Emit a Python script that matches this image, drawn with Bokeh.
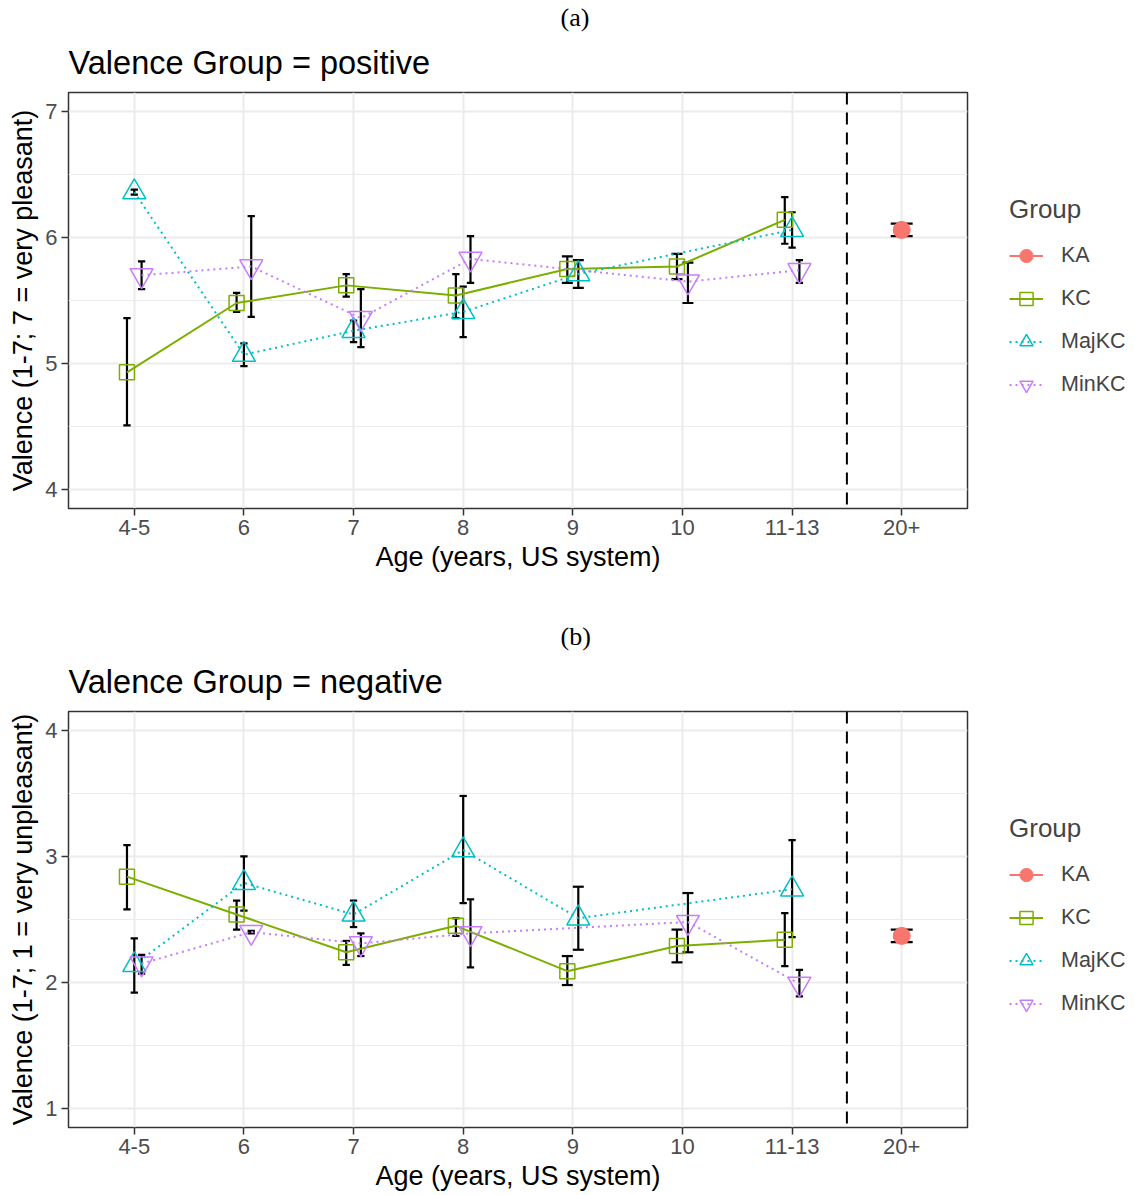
import math
from bokeh.plotting import figure
from bokeh.models import FixedTicker, Legend, LegendItem, Span, Title
from bokeh.layouts import column
from bokeh.embed import file_html
from bokeh.resources import INLINE

nan = float("nan")

categories = ["4-5", "6", "7", "8", "9", "10", "11-13", "20+"]
groups = ["KA", "KC", "MajKC", "MinKC"]

# ---- panel (a): positive valence ----
pos_KA_mean = [nan, nan, nan, nan, nan, nan, nan, 6.06]
pos_KA_lo = [nan, nan, nan, nan, nan, nan, nan, 6.01]
pos_KA_hi = [nan, nan, nan, nan, nan, nan, nan, 6.11]

pos_KC_mean = [4.93, 5.48, 5.62, 5.54, 5.75, 5.77, 6.14, nan]
pos_KC_lo = [4.51, 5.41, 5.53, 5.36, 5.64, 5.67, 5.95, nan]
pos_KC_hi = [5.36, 5.56, 5.71, 5.71, 5.85, 5.87, 6.32, nan]

pos_MajKC_mean = [6.36, 5.07, 5.26, 5.41, 5.71, nan, 6.06, nan]
pos_MajKC_lo = [6.34, 4.98, 5.17, 5.21, 5.60, nan, 5.92, nan]
pos_MajKC_hi = [6.38, 5.16, 5.34, 5.61, 5.82, nan, 6.20, nan]

pos_MinKC_mean = [5.70, 5.77, 5.36, 5.83, nan, 5.65, 5.74, nan]
pos_MinKC_lo = [5.59, 5.37, 5.13, 5.64, nan, 5.48, 5.64, nan]
pos_MinKC_hi = [5.81, 6.17, 5.59, 6.01, nan, 5.80, 5.82, nan]

# ---- panel (b): negative valence ----
neg_KA_mean = [nan, nan, nan, nan, nan, nan, nan, 2.37]
neg_KA_lo = [nan, nan, nan, nan, nan, nan, nan, 2.32]
neg_KA_hi = [nan, nan, nan, nan, nan, nan, nan, 2.42]

neg_KC_mean = [2.84, 2.54, 2.24, 2.45, 2.09, 2.29, 2.34, nan]
neg_KC_lo = [2.58, 2.42, 2.14, 2.37, 1.98, 2.16, 2.13, nan]
neg_KC_hi = [3.09, 2.65, 2.33, 2.51, 2.21, 2.42, 2.55, nan]

neg_MajKC_mean = [2.14, 2.79, 2.54, 3.05, 2.51, nan, 2.74, nan]
neg_MajKC_lo = [1.92, 2.57, 2.44, 2.63, 2.26, nan, 2.36, nan]
neg_MajKC_hi = [2.35, 3.00, 2.65, 3.48, 2.76, nan, 3.13, nan]

neg_MinKC_mean = [2.15, 2.40, 2.31, 2.39, nan, 2.48, 1.99, nan]
neg_MinKC_lo = [2.07, 2.39, 2.21, 2.12, nan, 2.24, 1.89, nan]
neg_MinKC_hi = [2.22, 2.41, 2.39, 2.66, nan, 2.71, 2.10, nan]

colors = {"KA": "#F8766D", "KC": "#7CAE00", "MajKC": "#00BFC4", "MinKC": "#C77CFF"}
markers = {"KA": "circle", "KC": "square", "MajKC": "triangle", "MinKC": "inverted_triangle"}
msizes = {"KA": 17, "KC": 15, "MajKC": 23, "MinKC": 23}
dashes = {"KA": "solid", "KC": "solid", "MajKC": "2 4", "MinKC": "2 4"}

FONT = "Liberation Sans"
DODGE = 0.2


def make_panel(tag, title, ylabel, yticks, yminor, yrange, data, top_border, bottom_border):
    p = figure(frame_width=899, frame_height=416, x_range=(0.4, 8.6), y_range=yrange,
               output_backend="svg", toolbar_location=None,
               min_border_left=68, min_border_right=156,
               min_border_top=top_border, min_border_bottom=bottom_border,
               background_fill_color="white", border_fill_color="white")
    p.outline_line_color = "#333333"
    p.outline_line_width = 1.5

    # outermost title: panel tag
    p.title.text = tag
    p.title.text_font = "Liberation Serif"
    p.title.text_font_size = "26px"
    p.title.text_font_style = "normal"
    p.title.text_color = "black"
    p.title.align = "left"
    p.title.offset = 492
    p.title.standoff = -2
    # inner title: facet label
    p.add_layout(Title(text=title, align="left", offset=0, text_font=FONT,
                       text_font_size="32.5px", text_font_style="normal", text_color="black",
                       standoff=24), "above")

    xt = list(range(1, len(categories) + 1))
    p.xaxis.ticker = FixedTicker(ticks=xt)
    p.xaxis.major_label_overrides = {i + 1: c for i, c in enumerate(categories)}
    p.xgrid.ticker = FixedTicker(ticks=xt)
    p.yaxis.ticker = FixedTicker(ticks=yticks, minor_ticks=yminor)
    p.ygrid.ticker = FixedTicker(ticks=yticks, minor_ticks=yminor)

    for g in (p.xgrid, p.ygrid):
        g.grid_line_color = "#EBEBEB"
        g.grid_line_width = 2
    p.ygrid.minor_grid_line_color = "#EBEBEB"
    p.ygrid.minor_grid_line_width = 1

    for ax in (p.xaxis, p.yaxis):
        ax.axis_line_color = None
        ax.major_tick_line_color = "#333333"
        ax.major_tick_line_width = 1.5
        ax.major_tick_out = 7
        ax.major_tick_in = 0
        ax.minor_tick_line_color = None
        ax.major_label_text_font = FONT
        ax.major_label_text_font_size = "22px"
        ax.major_label_text_color = "#4D4D4D"
        ax.major_label_standoff = 4
        ax.axis_label_text_font = FONT
        ax.axis_label_text_font_size = "27px"
        ax.axis_label_text_font_style = "normal"
        ax.axis_label_text_color = "black"
        ax.axis_label_standoff = 4
    p.xaxis.axis_label = "Age (years, US system)"
    p.yaxis.axis_label = ylabel

    # dodge positions (position_dodge, width 0.2)
    n_at = [sum(0 if math.isnan(data[g][0][i]) else 1 for g in groups) for i in range(len(categories))]
    rank = {g: [0] * len(categories) for g in groups}
    for i in range(len(categories)):
        k = 0
        for g in groups:
            if not math.isnan(data[g][0][i]):
                rank[g][i] = k
                k += 1

    line_r = {}
    pt_r = {}
    geo = {}
    for g in groups:
        mean, lo, hi = data[g]
        xs, ms, ls, hs, ws = [], [], [], [], []
        for i in range(len(categories)):
            if math.isnan(mean[i]):
                continue
            n = n_at[i]
            w = DODGE / n
            xs.append(i + 1 + (rank[g][i] - (n - 1) / 2) * w)
            ms.append(mean[i]); ls.append(lo[i]); hs.append(hi[i]); ws.append(w)
        geo[g] = (xs, ms, ls, hs, ws)

    # error bars
    for g in groups:
        xs, ms, ls, hs, ws = geo[g]
        x_l = [x - w / 2 for x, w in zip(xs, ws)]
        x_r = [x + w / 2 for x, w in zip(xs, ws)]
        p.segment(x0=xs, y0=ls, x1=xs, y1=hs, line_color="black", line_width=2.2)
        p.segment(x0=x_l, y0=ls, x1=x_r, y1=ls, line_color="black", line_width=2.2)
        p.segment(x0=x_l, y0=hs, x1=x_r, y1=hs, line_color="black", line_width=2.2)
    # lines
    for g in groups:
        xs, ms, ls, hs, ws = geo[g]
        line_r[g] = p.line(xs, ms, line_color=colors[g], line_width=2, line_dash=dashes[g])
    # points
    for g in groups:
        xs, ms, ls, hs, ws = geo[g]
        if g == "KA":
            pt_r[g] = p.scatter(xs, ms, marker=markers[g], size=msizes[g], fill_color=colors[g],
                                line_color=colors[g], line_width=1)
        else:
            pt_r[g] = p.scatter(xs, ms, marker=markers[g], size=msizes[g], fill_color=None,
                                line_color=colors[g], line_width=1.5)

    p.add_layout(Span(location=7.5, dimension="height", line_color="black", line_width=2,
                      line_dash="12 8"))

    items = [LegendItem(label=g, renderers=[line_r[g], pt_r[g]]) for g in groups]
    legend = Legend(items=items, title="Group", location=(42, 107), margin=0, padding=0,
                    border_line_color=None, background_fill_alpha=0,
                    glyph_width=34, glyph_height=33, label_height=33, spacing=10,
                    label_standoff=18, title_standoff=14,
                    title_text_font=FONT, title_text_font_size="26px", title_text_font_style="normal",
                    label_text_font=FONT, label_text_font_size="21.5px")
    p.add_layout(legend, "right")
    return p


data_pos = {"KA": (pos_KA_mean, pos_KA_lo, pos_KA_hi),
            "KC": (pos_KC_mean, pos_KC_lo, pos_KC_hi),
            "MajKC": (pos_MajKC_mean, pos_MajKC_lo, pos_MajKC_hi),
            "MinKC": (pos_MinKC_mean, pos_MinKC_lo, pos_MinKC_hi)}
data_neg = {"KA": (neg_KA_mean, neg_KA_lo, neg_KA_hi),
            "KC": (neg_KC_mean, neg_KC_lo, neg_KC_hi),
            "MajKC": (neg_MajKC_mean, neg_MajKC_lo, neg_MajKC_hi),
            "MinKC": (neg_MinKC_mean, neg_MinKC_lo, neg_MinKC_hi)}

p1 = make_panel("(a)", "Valence Group = positive", "Valence (1-7; 7 = very pleasant)",
                [4, 5, 6, 7], [4.5, 5.5, 6.5], (3.85, 7.15), data_pos, 92, 111)
p2 = make_panel("(b)", "Valence Group = negative", "Valence (1-7; 1 = very unpleasant)",
                [1, 2, 3, 4], [1.5, 2.5, 3.5], (0.85, 4.15), data_neg, 92, 60)

layout = column(p1, p2, spacing=0)
open("out.html", "w").write(file_html(layout, INLINE))
